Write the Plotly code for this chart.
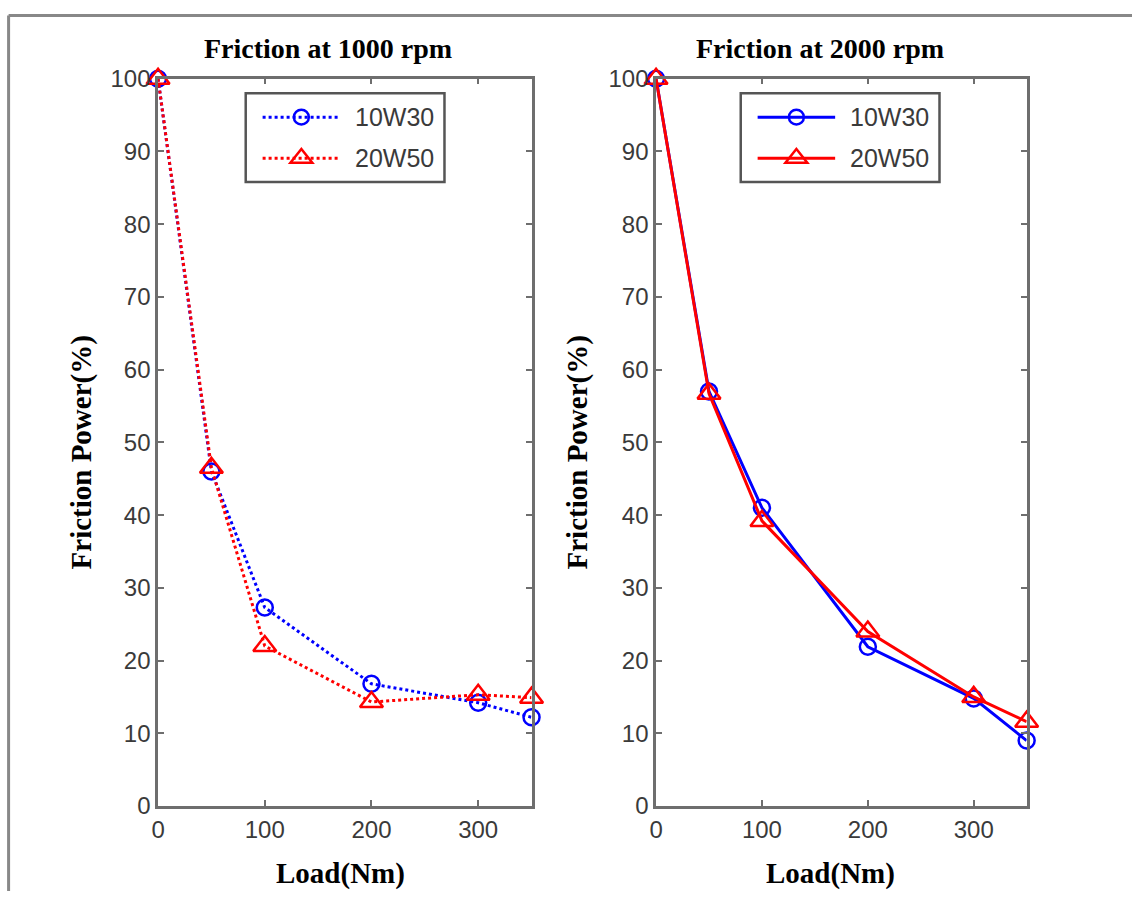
import plotly.graph_objects as go

# Load steps (Nm) and friction power (% of no-load value) for two oils
load_nm = [0, 50, 100, 200, 300, 350]

rpm1000_10w30 = [100, 46.0, 27.3, 16.8, 14.2, 12.2]
rpm1000_20w50 = [100, 46.5, 22.0, 14.3, 15.3, 14.9]

rpm2000_10w30 = [100, 57.0, 41.0, 21.9, 14.8, 9.0]
rpm2000_20w50 = [100, 56.7, 39.2, 24.0, 15.0, 11.6]

oil_names = ["10W30", "20W50"]
panel_titles = ["Friction at 1000 rpm", "Friction at 2000 rpm"]
x_ticks = [0, 100, 200, 300]
y_ticks = list(range(0, 101, 10))

W, H = 1132, 904
BLUE = "#0000ff"
RED = "#ff0000"
AXIS_GREY = "#6e6e6e"
TICK_TXT = "#3a3a3a"
SERIF = "Liberation Serif, Times New Roman, serif"
SANS = "Liberation Sans, Arial, sans-serif"


def px_x(p):
    """Horizontal pixel position -> paper fraction."""
    return p / W


def px_y(p):
    """Vertical pixel position (from top) -> paper fraction."""
    return 1 - p / H


fig = go.Figure()

panels = [
    ("x", "y", "dot", rpm1000_10w30, rpm1000_20w50),
    ("x2", "y2", "solid", rpm2000_10w30, rpm2000_20w50),
]
for xa, ya, dash, s1, s2 in panels:
    fig.add_trace(go.Scatter(
        x=load_nm, y=s1, name=oil_names[0], xaxis=xa, yaxis=ya,
        mode="lines+markers", cliponaxis=False, showlegend=False,
        line=dict(color=BLUE, width=3, dash=dash),
        marker=dict(symbol="circle-open", size=16, color=BLUE,
                    line=dict(color=BLUE, width=2.5)),
    ))
    fig.add_trace(go.Scatter(
        x=load_nm, y=s2, name=oil_names[1], xaxis=xa, yaxis=ya,
        mode="lines+markers", cliponaxis=False, showlegend=False,
        line=dict(color=RED, width=3, dash=dash),
        marker=dict(symbol="triangle-up-open", size=20, color=RED,
                    line=dict(color=RED, width=2.5)),
    ))

axis_common = dict(
    showgrid=False, zeroline=False, showline=True, linecolor=AXIS_GREY,
    linewidth=2.5, mirror="ticks", ticks="inside", ticklen=6, tickwidth=2,
    tickcolor=AXIS_GREY, tickfont=dict(family=SANS, size=24, color=TICK_TXT),
)

y_dom = [px_y(816.4), px_y(66.7)]
fig.update_layout(
    xaxis=dict(domain=[px_x(152.0), px_x(527.8)], range=[0, 350],
               tickvals=x_ticks, anchor="y", **axis_common),
    yaxis=dict(domain=y_dom, range=[0, 100], tickvals=y_ticks, anchor="x",
               **axis_common),
    xaxis2=dict(domain=[px_x(653.1), px_x(1026.0)], range=[0, 350],
                tickvals=x_ticks, anchor="y2", **axis_common),
    yaxis2=dict(domain=y_dom, range=[0, 100], tickvals=y_ticks, anchor="x2",
                **axis_common),
)

annots = []
shapes = []

# Panel titles, axis labels
for cx, title in zip([323.3, 818.5], panel_titles):
    annots.append(dict(text="<b>" + title + "</b>", x=px_x(cx), y=px_y(35.2),
                       xref="paper", yref="paper", showarrow=False,
                       xanchor="center", yanchor="middle",
                       font=dict(family=SERIF, size=28, color="black")))
for cx in [335.4, 828.5]:
    annots.append(dict(text="<b>Load(Nm)</b>", x=px_x(cx), y=px_y(886.4),
                       xref="paper", yref="paper", showarrow=False,
                       xanchor="center", yanchor="middle",
                       font=dict(family=SERIF, size=29, color="black")))
for cx in [74.8, 573.9]:
    annots.append(dict(text="<b>Friction Power(%)</b>", x=px_x(cx), y=px_y(451.6),
                       xref="paper", yref="paper", showarrow=False, textangle=-90,
                       xanchor="center", yanchor="middle",
                       font=dict(family=SERIF, size=29, color="black")))

# Boxed legend in each panel: long sample line with the marker in its middle
legend_boxes = [(240.2, "dot"), (738.3, "solid")]
box_top, box_bottom = 81.6, 173.3
row_y = [106.3, 148.6]
for bx, dash in legend_boxes:
    shapes.append(dict(type="rect", xref="paper", yref="paper",
                       x0=px_x(bx), x1=px_x(bx + 200),
                       y0=px_y(box_top), y1=px_y(box_bottom),
                       line=dict(color="#555555", width=2.5), fillcolor="white",
                       layer="above"))
    for ry, name, color in zip(row_y, oil_names, [BLUE, RED]):
        lx0, lx1, mx = bx + 17, bx + 95, bx + 56
        shapes.append(dict(type="line", xref="paper", yref="paper",
                           x0=px_x(lx0), x1=px_x(lx1), y0=px_y(ry), y1=px_y(ry),
                           line=dict(color=color, width=3, dash=dash),
                           layer="above"))
        if name == oil_names[0]:
            r = 7.5
            shapes.append(dict(type="circle", xref="paper", yref="paper",
                               x0=px_x(mx - r), x1=px_x(mx + r),
                               y0=px_y(ry + r), y1=px_y(ry - r),
                               line=dict(color=color, width=2.5),
                               fillcolor="rgba(0,0,0,0)", layer="above"))
        else:
            hw, ht = 11, 14
            path = "M {} {} L {} {} L {} {} Z".format(
                px_x(mx - hw), px_y(ry + ht * 0.33),
                px_x(mx + hw), px_y(ry + ht * 0.33),
                px_x(mx), px_y(ry - ht * 0.67))
            shapes.append(dict(type="path", xref="paper", yref="paper", path=path,
                               line=dict(color=color, width=2.5),
                               fillcolor="rgba(0,0,0,0)", layer="above"))
        annots.append(dict(text=name, x=px_x(bx + 108), y=px_y(ry),
                           xref="paper", yref="paper", showarrow=False,
                           xanchor="left", yanchor="middle",
                           font=dict(family=SANS, size=25, color=TICK_TXT)))

# Frame edges along the top and left of the figure
shapes += [
    dict(type="line", xref="paper", yref="paper", x0=px_x(1.6), x1=1,
         y0=px_y(1.5), y1=px_y(1.5), line=dict(color="#888888", width=3)),
    dict(type="line", xref="paper", yref="paper", x0=px_x(1.6), x1=px_x(1.6),
         y0=px_y(1.5), y1=0, line=dict(color="#888888", width=3)),
]

fig.update_layout(
    width=W, height=H, margin=dict(l=0, r=0, t=0, b=0),
    paper_bgcolor="white", plot_bgcolor="white",
    annotations=annots, shapes=shapes, showlegend=False,
)

fig.write_html("out.html")
